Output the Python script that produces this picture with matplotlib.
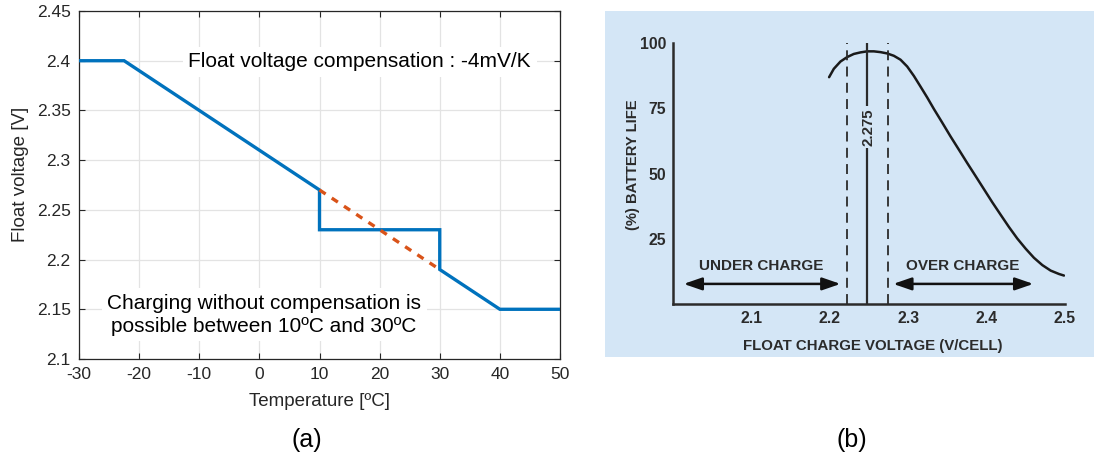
import matplotlib
matplotlib.use("Agg")
import matplotlib.pyplot as plt

plt.rcParams["axes.unicode_minus"] = False

# ---- (a) temperature-compensated float voltage ----
comp_temp = [-30, -22.5, 10, 10, 30, 30, 40, 50]
comp_volt = [2.40, 2.40, 2.27, 2.23, 2.23, 2.19, 2.15, 2.15]
ref_temp = [10, 30]
ref_volt = [2.27, 2.19]
temp_ticks = [-30, -20, -10, 0, 10, 20, 30, 40, 50]
volt_ticks = [2.1, 2.15, 2.2, 2.25, 2.3, 2.35, 2.4, 2.45]
volt_tick_labels = ["2.1", "2.15", "2.2", "2.25", "2.3", "2.35", "2.4", "2.45"]

# ---- (b) battery life versus float charge voltage ----
life_volt = [2.1991, 2.2051, 2.2136, 2.2221, 2.2306, 2.2391, 2.2477, 2.2562,
             2.2647, 2.2732, 2.2817, 2.2902, 2.2987, 2.3072, 2.3157, 2.3243,
             2.3328, 2.3434, 2.3540, 2.3647, 2.3753, 2.3860, 2.3966, 2.4072,
             2.4179, 2.4285, 2.4391, 2.4498, 2.4604, 2.4711, 2.4817, 2.4923,
             2.4987]
life_pct = [86.9, 90.1, 92.9, 94.6, 95.8, 96.4, 96.8, 96.8,
            96.5, 96.0, 95.1, 93.6, 91.0, 87.4, 83.3, 79.1,
            74.7, 69.5, 64.2, 59.1, 54.0, 49.0, 44.0, 39.0,
            34.2, 29.5, 25.1, 21.2, 17.7, 14.9, 12.8, 11.5,
            10.9]
band_low, band_mid, band_high = 2.222, 2.248, 2.274
cell_ticks = [2.1, 2.2, 2.3, 2.4, 2.5]
life_ticks = [25, 50, 75, 100]

W, H = 1094, 461
fig = plt.figure(figsize=(W / 100, H / 100), dpi=100)
fig.patch.set_facecolor("white")


def px_axes(x0, y0, x1, y1, **kw):
    return fig.add_axes([x0 / W, 1 - y1 / H, (x1 - x0) / W, (y1 - y0) / H], **kw)


font_a = ["Liberation Sans", "DejaVu Sans"]
dark = "#262626"

ax = px_axes(79, 11, 560, 359)
ax.set_xlim(-30, 50)
ax.set_ylim(2.1, 2.45)
ax.set_xticks(temp_ticks)
ax.set_yticks(volt_ticks)
ax.set_yticklabels(volt_tick_labels)
ax.grid(True, color="#e3e3e3", lw=0.9, zorder=0)
ax.tick_params(direction="in", length=4, width=0.8, top=True, right=True,
               labelsize=12.5, colors=dark, pad=6)
for lab in ax.get_xticklabels() + ax.get_yticklabels():
    lab.set_family(font_a)
    lab.set_color(dark)
for s in ax.spines.values():
    s.set_color(dark)
    s.set_linewidth(0.9)
ax.plot(comp_temp, comp_volt, color="#0072BD", lw=2.4, zorder=3,
        solid_joinstyle="miter")
ax.plot(ref_temp, ref_volt, color="#D95319", lw=2.4, ls=(0, (2.2, 2.2)),
        zorder=4)
ax.set_xlabel("Temperature [ºC]", family=font_a, fontsize=13.5, color=dark)
ax.set_ylabel("Float voltage [V]", family=font_a, fontsize=13.5, color=dark)
ax.xaxis.set_label_coords(0.5, -0.098)
ax.yaxis.set_label_coords(-0.104, 0.53)
ax.text(16.7, 2.399, "Float voltage compensation : -4mV/K", family=font_a,
        fontsize=15, color="black", ha="center", va="center", zorder=2,
        bbox=dict(facecolor="white", edgecolor="none", pad=4))
ax.text(0.8, 2.1445, "Charging without compensation is\npossible between 10ºC and 30ºC",
        family=font_a, fontsize=15, color="black", ha="center", va="center",
        linespacing=1.25, zorder=2,
        bbox=dict(facecolor="white", edgecolor="none", pad=4))

fig.text(307 / W, 1 - 440 / H, "(a)", family=font_a, fontsize=18,
         ha="center", va="center", color="black")
fig.text(852 / W, 1 - 440 / H, "(b)", family=font_a, fontsize=18,
         ha="center", va="center", color="black")

# ---- panel (b) ----
bg = "#d4e6f6"
ink = "#2b2b2b"
bgax = px_axes(605, 11, W, 357)
bgax.set_facecolor(bg)
bgax.set_xticks([])
bgax.set_yticks([])
for s in bgax.spines.values():
    s.set_visible(False)

bx = px_axes(673, 43, 1065, 304)
bx.set_facecolor("none")
bx.set_xlim(2.0, 2.5)
bx.set_ylim(0, 100)
for side in ("top", "right"):
    bx.spines[side].set_visible(False)
for side in ("left", "bottom"):
    bx.spines[side].set_color(ink)
    bx.spines[side].set_linewidth(1.8)
bx.set_xticks(cell_ticks)
bx.set_yticks(life_ticks)
bx.tick_params(length=0, labelsize=11.3, colors=ink)
bx.tick_params(axis="x", pad=5)
bx.tick_params(axis="y", pad=5)
for lab in bx.get_xticklabels() + bx.get_yticklabels():
    lab.set_family(font_a)
    lab.set_weight("bold")

bx.plot(life_volt, life_pct, color="#1a1a1a", lw=1.8, solid_capstyle="round",
        solid_joinstyle="round")
for v in (band_low, band_high):
    bx.plot([v, v], [0, 100], color=ink, lw=1.3, ls=(0, (5.5, 3.5)))
bx.plot([band_mid, band_mid], [0, 100], color=ink, lw=1.6)
bx.text(band_mid + 0.001, 67.7, "2.275", rotation=90, ha="center", va="center",
        family=font_a, fontsize=10.8, weight="bold", color=ink,
        bbox=dict(facecolor=bg, edgecolor="none", pad=1.5))

arrow = dict(arrowstyle="<|-|>,head_length=1.1,head_width=0.38", color="#111111",
             lw=1.8, shrinkA=0, shrinkB=0)
bx.annotate("", xy=(2.0136, 7.7), xytext=(2.2136, 7.7), arrowprops=arrow)
bx.annotate("", xy=(2.2809, 7.7), xytext=(2.4596, 7.7), arrowprops=arrow)
bx.text(2.1128, 14.6, "UNDER CHARGE", ha="center", va="center", family=font_a,
        fontsize=11, weight="bold", color=ink)
bx.text(2.369, 14.6, "OVER CHARGE", ha="center", va="center", family=font_a,
        fontsize=11, weight="bold", color=ink)
bx.text(-0.102, 0.533, "(%) BATTERY LIFE", rotation=90, transform=bx.transAxes,
        ha="center", va="center", family=font_a, fontsize=10.6, weight="bold",
        color=ink)
fig.text(873 / W, 1 - 346 / H, "FLOAT CHARGE VOLTAGE (V/CELL)", ha="center",
         va="center", family=font_a, fontsize=10.8, weight="bold", color=ink)

fig.savefig("out.png", dpi=100, facecolor="white")
